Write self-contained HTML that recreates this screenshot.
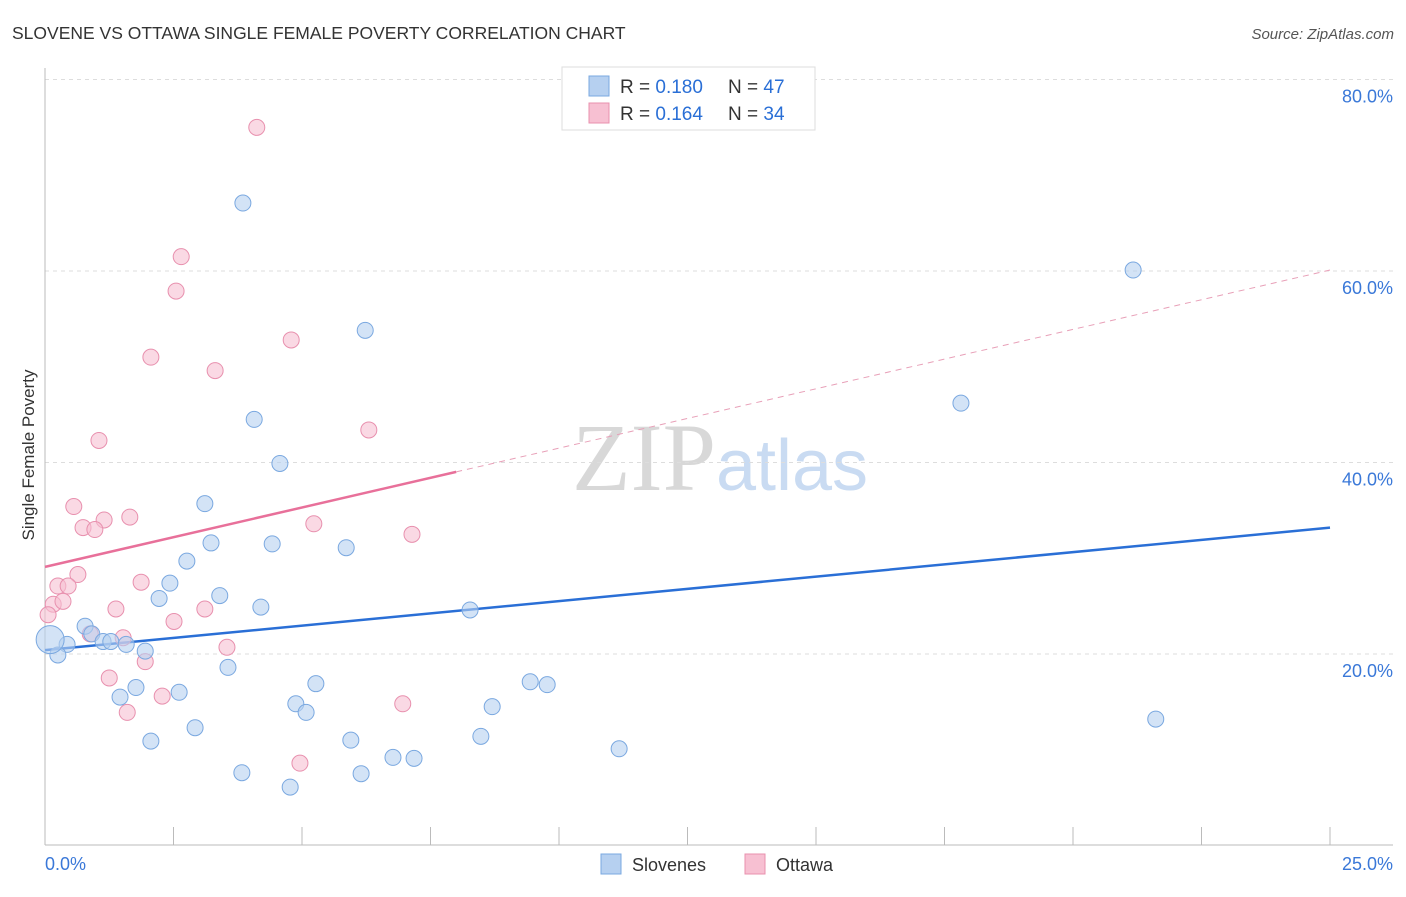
<!DOCTYPE html>
<html><head><meta charset="utf-8"><style>
body{margin:0;background:#fff;font-family:"Liberation Sans",sans-serif}
svg text{font-family:"Liberation Sans",sans-serif}
</style></head><body>
<svg id="chart" width="1406" height="892" xmlns="http://www.w3.org/2000/svg">
<text x="12" y="39" font-size="17.5" fill="#333">SLOVENE VS OTTAWA SINGLE FEMALE POVERTY CORRELATION CHART</text>
<text x="1394" y="39" font-size="15" fill="#555" text-anchor="end" font-style="italic">Source: ZipAtlas.com</text>
<text x="720" y="490" font-size="96" text-anchor="middle"><tspan fill="#d8d8d8" font-family="Liberation Serif">ZIP</tspan><tspan fill="#c9dbf2" font-size="72">atlas</tspan></text>
<g id="grid"></g>
<g id="axes"></g>
<g id="lines"></g>
<g id="pts"></g>
<text transform="translate(34,455) rotate(-90)" font-size="17" fill="#333" text-anchor="middle">Single Female Poverty</text>
<g>
<rect x="562" y="67" width="253" height="63" fill="#fff" stroke="#ddd"/>
<rect x="589" y="76" width="20" height="20" fill="#b6d0f0" stroke="#7aa8e0"/>
<rect x="589" y="103" width="20" height="20" fill="#f7c0d2" stroke="#e890ae"/>
<text x="620" y="93" font-size="19" fill="#333">R = <tspan fill="#2a6fd6">0.180</tspan></text>
<text x="728" y="93" font-size="19" fill="#333">N = <tspan fill="#2a6fd6">47</tspan></text>
<text x="620" y="120" font-size="19" fill="#333">R = <tspan fill="#2a6fd6">0.164</tspan></text>
<text x="728" y="120" font-size="19" fill="#333">N = <tspan fill="#2a6fd6">34</tspan></text>
</g>
<g>
<rect x="601" y="854" width="20" height="20" fill="#b6d0f0" stroke="#7aa8e0"/>
<text x="632" y="871" font-size="18" fill="#333">Slovenes</text>
<rect x="745" y="854" width="20" height="20" fill="#f7c0d2" stroke="#e890ae"/>
<text x="776" y="871" font-size="18" fill="#333">Ottawa</text>
</g>
</svg>
<script>
const blueX=[3.85,6.23,21.17,17.82,4.07,4.57,3.11,3.23,4.42,5.86,2.76,2.43,2.22,3.40,4.20,8.27,0.78,0.91,1.13,1.28,1.58,0.43,1.95,0.25,0.10,3.56,1.77,2.61,1.46,5.27,4.88,5.08,9.44,9.77,8.70,21.61,2.92,2.06,5.95,8.48,11.17,6.77,7.18,3.83,6.15,4.77];
const blueY=[67.1,53.8,60.1,46.2,44.5,39.9,35.7,31.6,31.5,31.1,29.7,27.4,25.8,26.1,24.9,24.6,22.9,22.1,21.3,21.3,21.0,21.0,20.3,19.9,21.5,18.6,16.5,16.0,15.5,16.9,14.8,13.9,17.1,16.8,14.5,13.2,12.3,10.9,11.0,11.4,10.1,9.2,9.1,7.6,7.5,6.1];
const pinkX=[4.12,2.65,2.55,4.79,2.06,3.31,6.30,1.05,0.56,1.65,1.15,0.74,0.97,5.23,7.14,0.64,1.87,0.25,0.45,0.16,0.35,0.06,1.38,3.11,2.51,0.88,1.52,3.54,1.95,1.25,2.28,6.96,1.60,4.96];
const pinkY=[75.0,61.5,57.9,52.8,51.0,49.6,43.4,42.3,35.4,34.3,34.0,33.2,33.0,33.6,32.5,28.3,27.5,27.1,27.1,25.2,25.5,24.1,24.7,24.7,23.4,22.1,21.7,20.7,19.2,17.5,15.6,14.8,13.9,8.6];
const blueTrend=[20.4,33.2];
const pinkTrend=[29.1,60.1];
const pinkSolidEnd=8.0;
const yTicks=[20,40,60,80];
const yTickLabels=["20.0%","40.0%","60.0%","80.0%"];
const xTickLabels=["0.0%","25.0%"];
const NS="http://www.w3.org/2000/svg";
const sx=v=>45+v*51.4, sy=v=>845.5-v*9.575;
function mk(t,a,p){const e=document.createElementNS(NS,t);for(const k in a)e.setAttribute(k,a[k]);p.appendChild(e);return e;}
const grid=document.getElementById('grid'),axes=document.getElementById('axes'),lines=document.getElementById('lines'),pts=document.getElementById('pts');
yTicks.forEach((v,i)=>{
 const l=mk('line',{x1:45,x2:1393,y1:sy(v),y2:sy(v),stroke:'#ddd','stroke-dasharray':'4,4'},grid);
 
 
 const t=mk('text',{x:1393,y:sy(v)+23,'font-size':18,fill:'#3a78d8','text-anchor':'end'},axes);
 t.textContent=yTickLabels[i];
 
 
});
mk('line',{x1:45,x2:45,y1:68,y2:845,stroke:'#bbb'},axes);
mk('line',{x1:45,x2:1393,y1:845,y2:845,stroke:'#bbb'},axes);
for(let i=1;i<=10;i++){
 const tk=mk('line',{x1:sx(i*2.5),x2:sx(i*2.5),y1:827,y2:845,stroke:'#bbb'},axes);
 
 
}
const xl0=mk('text',{x:45,y:870,'font-size':18,fill:'#3a78d8'},axes);xl0.textContent=xTickLabels[0];


const xl1=mk('text',{x:1393,y:870,'font-size':18,fill:'#3a78d8','text-anchor':'end'},axes);xl1.textContent=xTickLabels[1];


function draw(xs,ys,fill,stroke,name){
 xs.forEach((x,i)=>{
  const c=mk('circle',{cx:sx(x),cy:sy(ys[i]),r:(name==='slovene-point'&&i===24)?14:8,fill:fill,'fill-opacity':0.6,stroke:stroke,'stroke-width':1},pts);
  
  
 });
}
draw(pinkX,pinkY,'#f7c0d2','#e890ae','ottawa-point');
draw(blueX,blueY,'#b6d0f0','#7aa8e0','slovene-point');
const pv=x=>pinkTrend[0]+(pinkTrend[1]-pinkTrend[0])*x/25;
const bl=mk('line',{x1:sx(0),y1:sy(blueTrend[0]),x2:sx(25),y2:sy(blueTrend[1]),stroke:'#2a6fd6','stroke-width':2.5},lines);


const pl=mk('line',{x1:sx(0),y1:sy(pv(0)),x2:sx(pinkSolidEnd),y2:sy(pv(pinkSolidEnd)),stroke:'#e8709a','stroke-width':2.5},lines);


const pd=mk('line',{x1:sx(pinkSolidEnd),y1:sy(pv(pinkSolidEnd)),x2:sx(25),y2:sy(pv(25)),stroke:'#e8a0b8','stroke-width':1,'stroke-dasharray':'6,5'},lines);


</script>
</body></html>
